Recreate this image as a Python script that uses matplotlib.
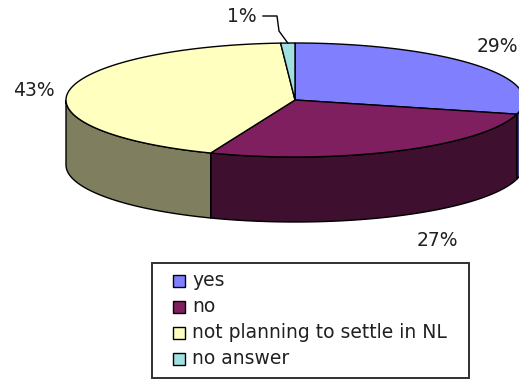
import numpy as np
import matplotlib.pyplot as plt
from matplotlib.patches import Polygon, Rectangle

# answer shares (percent), clockwise from 12 o'clock
categories = ["yes", "no", "not planning to settle in NL", "no answer"]
shares = [29, 27, 43, 1]
top_colors = ["#8080FF", "#7F1F5F", "#FFFFC0", "#A0E0E0"]
side_colors = ["#404080", "#3F0F2F", "#7F7F60", "#507070"]

# projected pie geometry (pixels)
CX, CY = 295, 100
RX, RY = 229, 57
DEPTH = 65

# where each percentage label sits
label_pos = [(497, 46), (437, 241), (34, 91), (242, 17)]

# legend box (pixels)
LEG_X0, LEG_Y0, LEG_X1, LEG_Y1 = 152, 263, 469, 378
ROW0, ROW_STEP = 281, 26

W, H = 519, 379
fig = plt.figure(figsize=(W / 100, H / 100), dpi=100)
ax = fig.add_axes([0, 0, 1, 1])
ax.set_xlim(0, W)
ax.set_ylim(H, 0)
ax.axis("off")

FONT = "DejaVu Sans"
FS = 13.5


def rim(t0, t1, dy=0.0, n=120):
    t = np.radians(np.linspace(t0, t1, n))
    return np.column_stack([CX + RX * np.cos(t), CY - RY * np.sin(t) + dy])


# slice angles: start at 90 deg, run clockwise
fracs = np.array(shares, float) / sum(shares)
ends = 90 - 360 * np.cumsum(fracs)
starts = np.concatenate([[90], ends[:-1]])

# side walls: only the front half (angles between -180 and 0) shows
for a0, a1, col in zip(starts, ends, side_colors):
    for off in (0, -360):
        lo, hi = max(a1 + off, -180), min(a0 + off, 0)
        if hi - lo <= 0:
            continue
        top = rim(hi, lo)
        bot = rim(lo, hi, DEPTH)
        ax.add_patch(Polygon(np.vstack([top, bot]), closed=True,
                             facecolor=col, edgecolor="black", lw=1.0))

# top surface
for a0, a1, col in zip(starts, ends, top_colors):
    pts = np.vstack([[CX, CY], rim(a0, a1)])
    ax.add_patch(Polygon(pts, closed=True, facecolor=col,
                         edgecolor="black", lw=1.0, joinstyle="miter"))

# percentage labels
for v, (x, y) in zip(shares, label_pos):
    ax.text(x, y, f"{v}%", fontsize=FS, family=FONT, color="#202020",
            ha="center", va="center")

# leader line for the thin slice
mid = np.radians((starts[3] + ends[3]) / 2)
ex, ey = CX + RX * np.cos(mid), CY - RY * np.sin(mid)
ax.plot([263, 277, 279, ex], [16, 16, 31, ey], color="black", lw=1.0)

# legend
ax.add_patch(Rectangle((LEG_X0, LEG_Y0), LEG_X1 - LEG_X0, LEG_Y1 - LEG_Y0,
                       facecolor="white", edgecolor="#303030", lw=1.4))
for i, (name, col) in enumerate(zip(categories, top_colors)):
    y = ROW0 + i * ROW_STEP
    ax.add_patch(Rectangle((173, y - 6), 12, 12, facecolor=col,
                           edgecolor="black", lw=1.0))
    ax.text(192, y, name, fontsize=FS, family=FONT, color="#202020",
            ha="left", va="center")

fig.savefig("out.png", dpi=100)
